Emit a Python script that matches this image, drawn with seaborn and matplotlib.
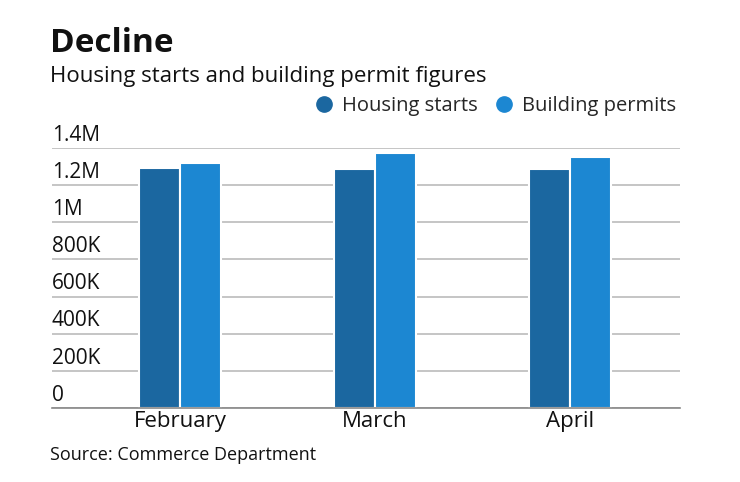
import matplotlib.pyplot as plt
import seaborn as sns
import pandas as pd
from matplotlib.lines import Line2D

months = ['February', 'March', 'April']
housing_starts = [1294000, 1288000, 1287000]
building_permits = [1320000, 1375000, 1350000]
series = ['Housing starts', 'Building permits']
colors = ['#1b67a0', '#1c87d2']
yticks = [0, 200000, 400000, 600000, 800000, 1000000, 1200000, 1400000]
ylabels = ['0', '200K', '400K', '600K', '800K', '1M', '1.2M', '1.4M']

df = pd.DataFrame({
    'month': months * 2,
    'series': [series[0]] * 3 + [series[1]] * 3,
    'value': housing_starts + building_permits,
})

sns.set_style('white')
plt.rcParams['font.family'] = ['Open Sans', 'DejaVu Sans']

fig = plt.figure(figsize=(7.4, 4.82), dpi=100)
ax = fig.add_axes([52 / 740, 74 / 482, 628 / 740, 260 / 482])

sns.barplot(data=df, x='month', y='value', hue='series', palette=colors,
            saturation=1, width=0.42, edgecolor='white', linewidth=1.5,
            ax=ax, legend=False, zorder=3)

ax.set_xlim(-0.656, 2.564)
ax.set_ylim(0, 1400000)
ax.set_yticks(yticks)
ax.set_yticklabels([])
ax.tick_params(axis='y', length=0)
ax.tick_params(axis='x', length=0, labelsize=16, pad=2, colors='#111111')
ax.set_xlabel('')
ax.set_ylabel('')
ax.grid(axis='y', color='#bbbbbb', linewidth=1.2, zorder=0)
for s in ['top', 'right', 'left']:
    ax.spines[s].set_visible(False)
ax.spines['bottom'].set_color('#888888')
ax.spines['bottom'].set_linewidth(1.2)
ax.spines['bottom'].set_zorder(4)

for v, lab in zip(yticks, ylabels):
    ax.text(0, v + 12000, lab, transform=ax.get_yaxis_transform(),
            ha='left', va='bottom', fontsize=15, color='#111111')

fig.text(50 / 740, 1 - 52 / 482, 'Decline', fontsize=24, fontweight='bold',
         color='#111111', ha='left', va='baseline')
fig.text(50 / 740, 1 - 82 / 482, 'Housing starts and building permit figures',
         fontsize=16, color='#111111', ha='left', va='baseline')
fig.text(50 / 740, 1 - 460 / 482, 'Source: Commerce Department',
         fontsize=13, color='#111111', ha='left', va='baseline')

handles = [Line2D([], [], marker='o', linestyle='', markersize=11,
                  markerfacecolor=c, markeredgecolor=c) for c in colors]
fig.legend(handles, series, loc='center right', bbox_to_anchor=(686 / 740, 1 - 106 / 482),
           ncol=2, frameon=False, fontsize=14.5, handletextpad=0.4,
           columnspacing=0.8, handlelength=1.0, borderpad=0)

fig.savefig('out.png', dpi=100)
